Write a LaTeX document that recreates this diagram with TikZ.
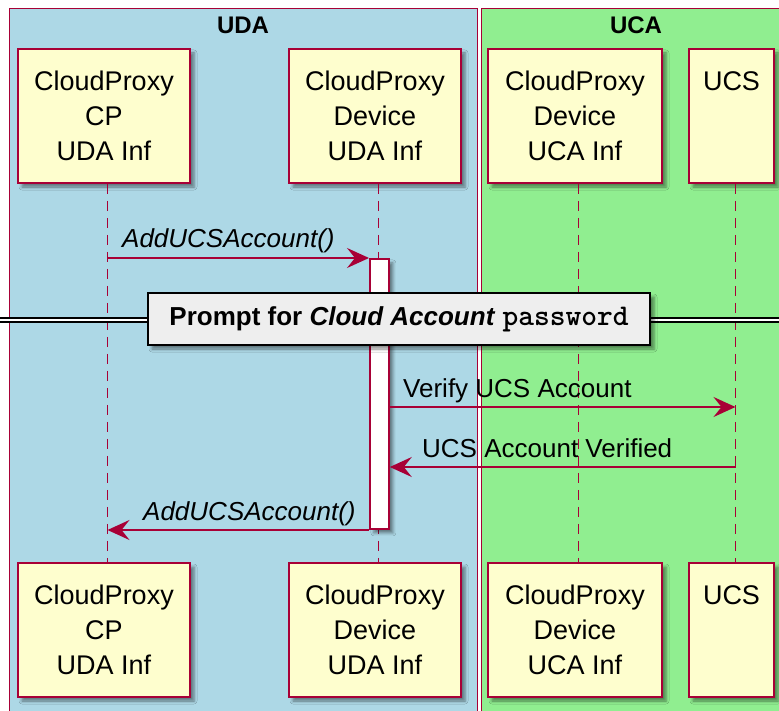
\documentclass[tikz,border=0pt]{standalone}
\usepackage{fontspec}
\setmainfont{Liberation Sans}
\newfontfamily\pwfont{lmmonolt10-bold.otf}
\usetikzlibrary{arrows.meta,shadows.blur}

\definecolor{seqline}{HTML}{A80036}
\definecolor{partfill}{HTML}{FEFECE}
\definecolor{udabg}{HTML}{ADD8E6}
\definecolor{ucabg}{HTML}{90EE90}
\definecolor{divfill}{HTML}{EEEEEE}

\tikzset{
  softshadow/.style={blur shadow={shadow xshift=4pt, shadow yshift=-4pt,
      shadow blur radius=3pt, shadow opacity=45}},
  grouprect/.style={draw=seqline, line width=1.3pt},
  grouptitle/.style={font=\bfseries\fontsize{24}{28}\selectfont, inner sep=0pt},
  participant/.style={draw=seqline, line width=1.8pt, fill=partfill, softshadow,
      minimum height=134pt, minimum width=#1, inner sep=0pt, align=center,
      font=\fontsize{27}{35}\selectfont},
  lifeline/.style={draw=seqline, line width=1.6pt, dash pattern=on 10pt off 7pt},
  activation/.style={draw=seqline, line width=1.8pt, fill=white, softshadow,
      minimum width=19pt, minimum height=270pt, inner sep=0pt},
  msg/.style={draw=seqline, line width=1.8pt,
      -{Stealth[length=22pt,width=20pt,inset=8pt]}},
  msglabel/.style={anchor=base west, inner sep=0pt, font=\fontsize{26}{30}\selectfont},
  divbox/.style={draw=black, line width=2.2pt, fill=divfill, softshadow,
      minimum width=502pt, minimum height=52pt, inner sep=0pt,
      font=\bfseries\fontsize{26}{30}\selectfont},
}

\begin{document}
\begin{tikzpicture}[x=1pt, y=-1pt]
  \useasboundingbox (0,0) rectangle (779,711);

  % group boxes
  \filldraw[grouprect, fill=udabg] (9.5,8.5) rectangle (477.5,730);
  \filldraw[grouprect, fill=ucabg] (481.5,8.5) rectangle (800,730);
  \node[grouptitle] (udaTitle) at (243,25) {UDA};
  \node[grouptitle] (ucaTitle) at (636,25) {UCA};

  % participants, top row
  \node[participant=172pt] (cpT)   at (104,116)   {CloudProxy\\CP\\UDA Inf};
  \node[participant=172pt] (devT)  at (375,116)   {CloudProxy\\Device\\UDA Inf};
  \node[participant=174pt] (ucaT)  at (575,116)   {CloudProxy\\Device\\UCA Inf};
  \node[participant=85pt]  (ucsT)  at (731.5,116) {UCS\\~\\~};

  % participants, bottom row
  \node[participant=172pt] (cpB)   at (104,630)   {CloudProxy\\CP\\UDA Inf};
  \node[participant=172pt] (devB)  at (375,630)   {CloudProxy\\Device\\UDA Inf};
  \node[participant=174pt] (ucaB)  at (575,630)   {CloudProxy\\Device\\UCA Inf};
  \node[participant=85pt]  (ucsB)  at (731.5,630) {UCS\\~\\~};

  % lifelines
  \coordinate (cpTop)  at ([xshift=3.5pt]cpT.south);
  \coordinate (devTop) at ([xshift=3.5pt]devT.south);
  \coordinate (ucaTop) at ([xshift=3.5pt]ucaT.south);
  \coordinate (ucsTop) at ([xshift=4pt]ucsT.south);
  \coordinate (cpBot)  at ([xshift=3.5pt]cpB.north);
  \coordinate (devBot) at ([xshift=3.5pt]devB.north);
  \coordinate (ucaBot) at ([xshift=3.5pt]ucaB.north);
  \coordinate (ucsBot) at ([xshift=4pt]ucsB.north);
  \draw[lifeline] (cpTop)  -- (cpBot);
  \draw[lifeline] (devTop) -- (devBot);
  \draw[lifeline] (ucaTop) -- (ucaBot);
  \draw[lifeline] (ucsTop) -- (ucsBot);

  % activation of the UDA device
  \node[activation, anchor=north west] (act) at (369,258) {};

  % message rows
  \coordinate (row2) at (0,407);
  \coordinate (row3) at (0,467);
  \coordinate (row4) at (0,530);

  \draw[msg] (cpTop |- act.north) -- (act.north west);
  \node[msglabel] (l1) at (122,248) {\itshape AddUCSAccount()};

  \draw[msg] (act.east |- row2) -- (ucsTop |- row2);
  \node[msglabel] (l2) at (403,397) {Verify UCS Account};

  \draw[msg] (ucsTop |- row3) -- (act.east |- row3);
  \node[msglabel] (l3) at (422,457) {UCS Account Verified};

  \draw[msg] (act.west |- row4) -- (cpTop |- row4);
  \node[msglabel] (l4) at (143,520) {\itshape AddUCSAccount()};

  % divider
  \coordinate (divL) at (0,320);
  \coordinate (divR) at (779,320);
  \draw[black, line width=6.5pt] (divL) -- (divR);
  \draw[white, line width=2.5pt] (divL) -- (divR);
  \node[divbox] (div) at (399,319)
    {Prompt for \textit{Cloud Account} {\pwfont\fontsize{30}{30}\selectfont password}};
\end{tikzpicture}
\end{document}
